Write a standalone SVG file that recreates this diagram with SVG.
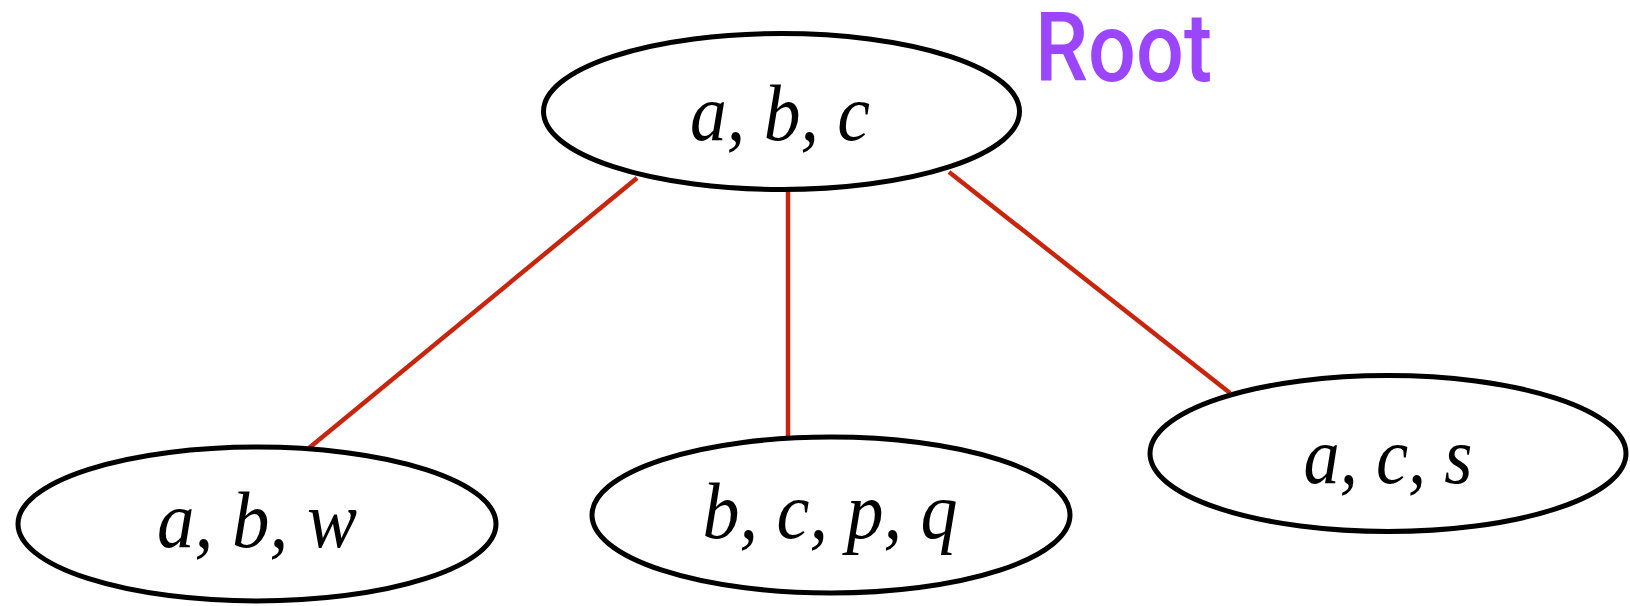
<svg xmlns="http://www.w3.org/2000/svg" width="1630" height="606" viewBox="0 0 1630 606">
<style>
.node ellipse{fill:#fff;stroke:#000;stroke-width:5}
.node text{font-family:"Liberation Serif","Times New Roman",serif;font-style:italic;font-size:80px;fill:#000;text-anchor:middle}
.edge{stroke:#c8250f;stroke-width:4.5;fill:none}
.lbl{font-family:Roboto,"Noto Sans",sans-serif;font-weight:500;font-size:96px;fill:#9b45ff}
</style>
<rect width="1630" height="606" fill="#fff"/>
<g id="connectors">
<line class="edge" x1="637" y1="178" x2="309" y2="448"/>
<line class="edge" x1="788" y1="190" x2="788" y2="437"/>
<line class="edge" x1="949" y1="172" x2="1230" y2="393"/>
</g>
<g id="root" class="node">
<ellipse cx="781.5" cy="111.5" rx="238" ry="78"/>
<text x="780" y="140" textLength="180" lengthAdjust="spacingAndGlyphs">a, b, c</text>
</g>
<g id="root-label">
<text class="lbl" x="1035" y="81" textLength="177" lengthAdjust="spacingAndGlyphs">Root</text>
</g>
<g id="abw" class="node">
<ellipse cx="257" cy="524" rx="239" ry="77"/>
<text x="257" y="547" textLength="200" lengthAdjust="spacingAndGlyphs">a, b, w</text>
</g>
<g id="bcpq" class="node">
<ellipse cx="831" cy="515" rx="239" ry="78"/>
<text x="830" y="538" textLength="255" lengthAdjust="spacingAndGlyphs">b, c, p, q</text>
</g>
<g id="acs" class="node">
<ellipse cx="1388" cy="453.5" rx="238" ry="78"/>
<text x="1388" y="483" textLength="169" lengthAdjust="spacingAndGlyphs">a, c, s</text>
</g>
</svg>
